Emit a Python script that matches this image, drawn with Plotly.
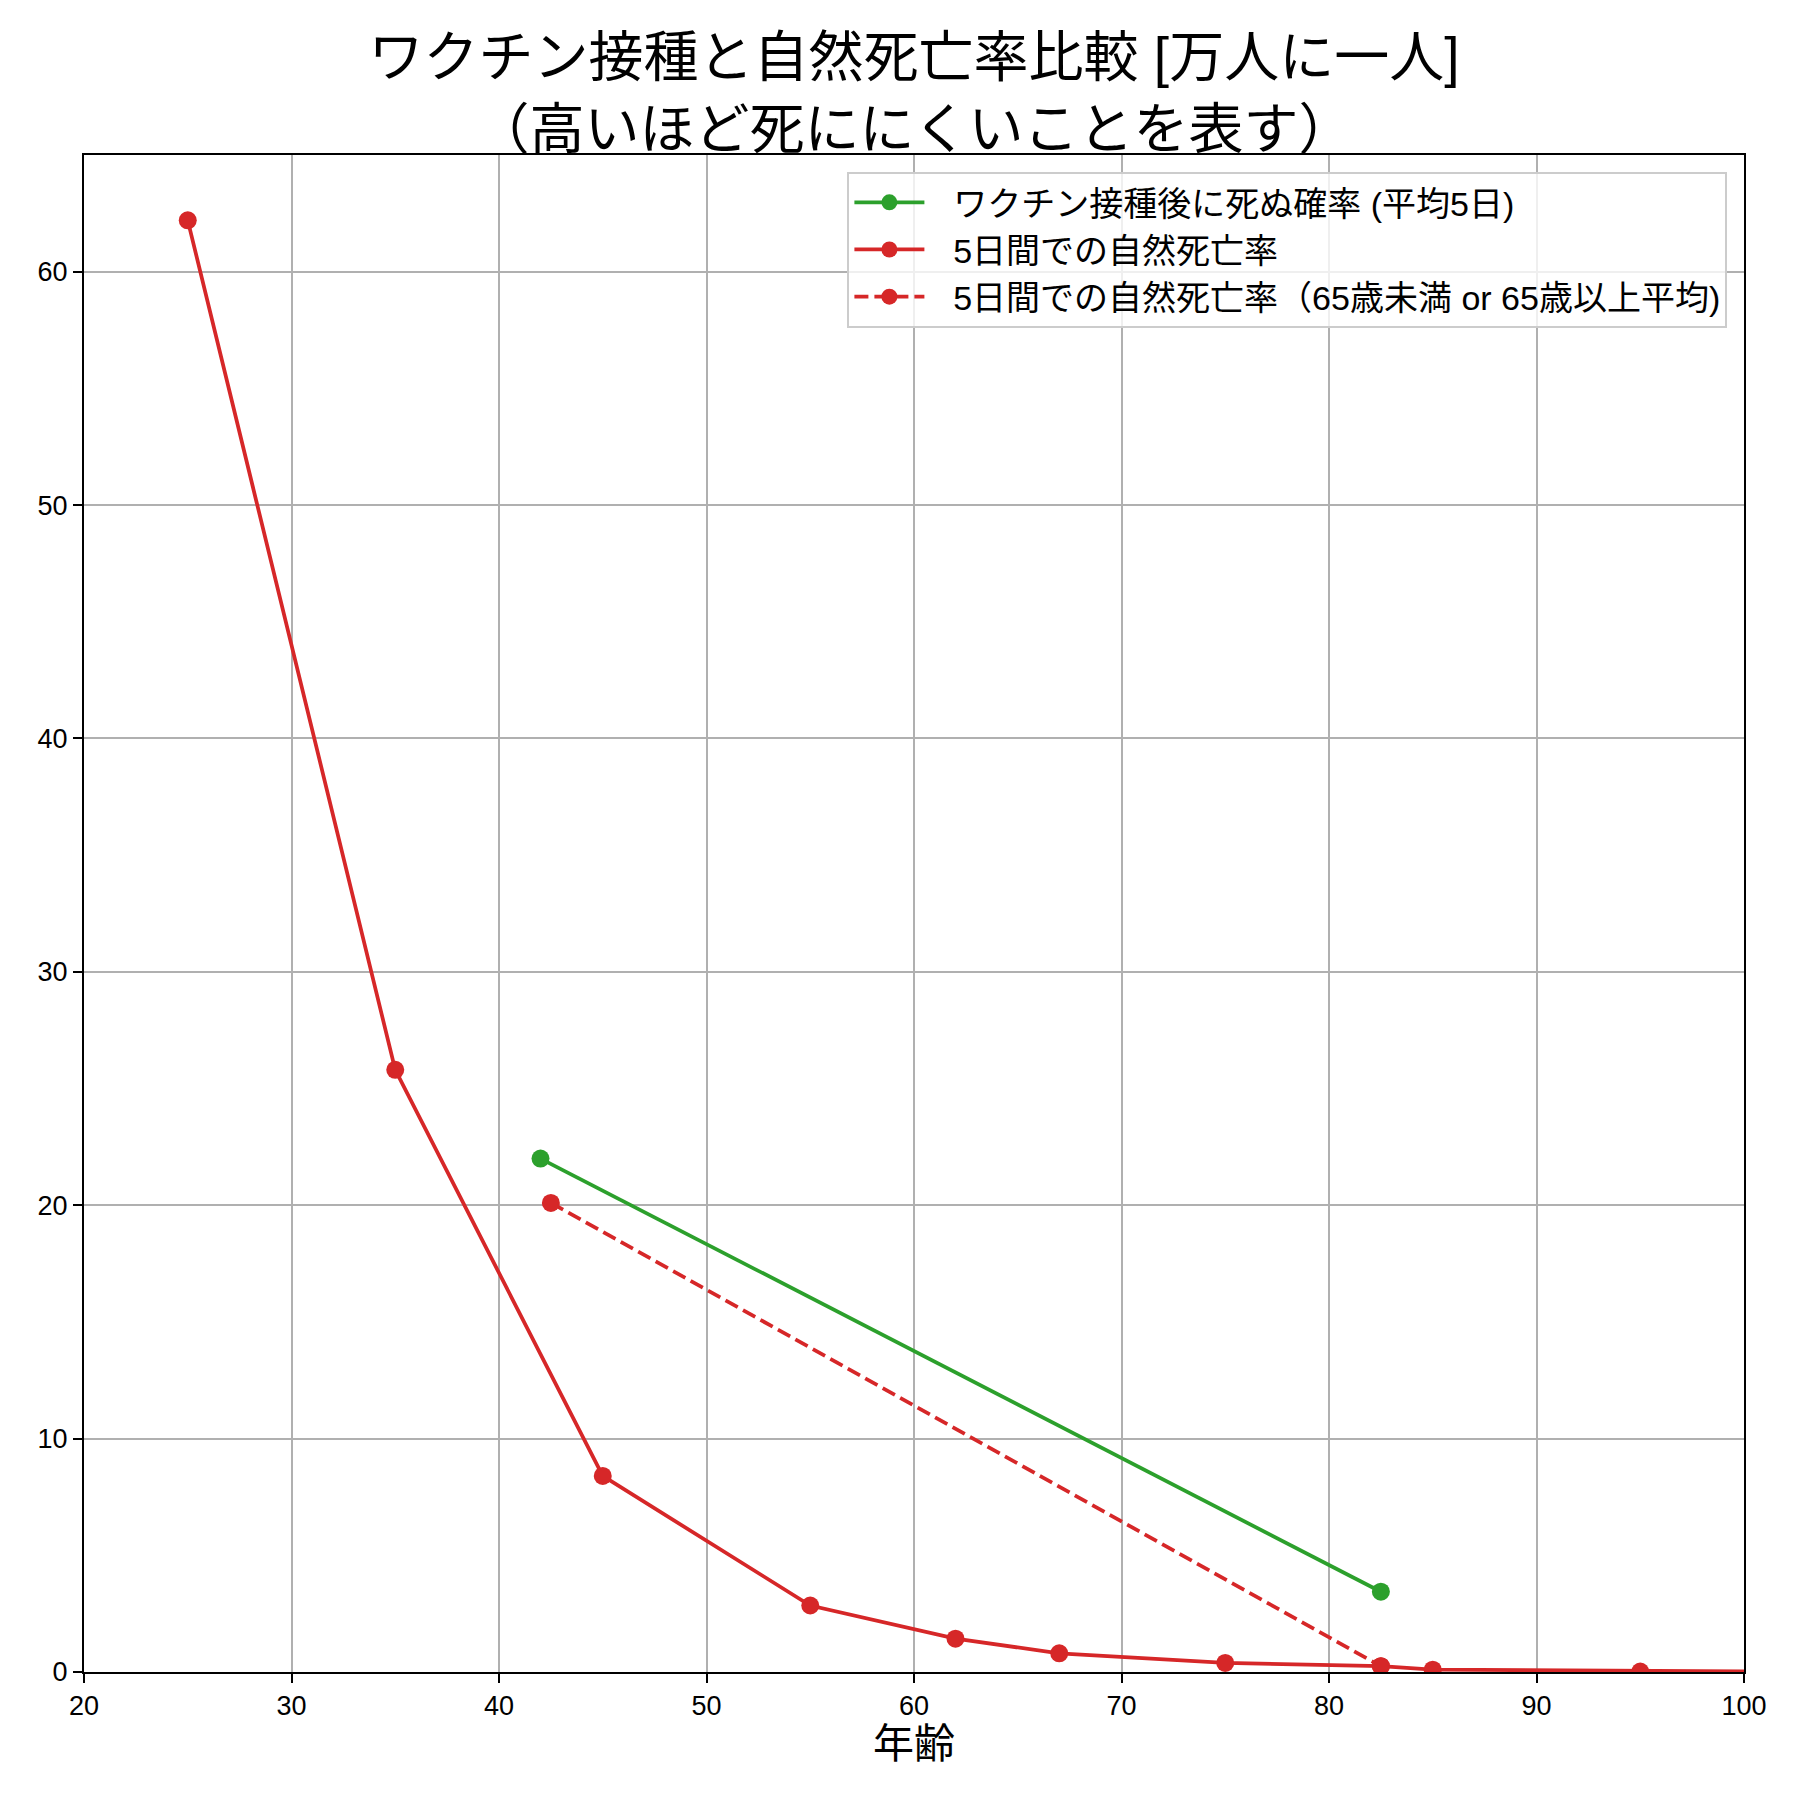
import plotly.graph_objects as go

age_natural = [25, 35, 45, 55, 62, 67, 75, 82.5, 85, 95, 105]
rate_natural = [62.2, 25.8, 8.4, 2.85, 1.43, 0.8, 0.39, 0.25, 0.1, 0.02, 0.0]

age_vaccine = [42, 82.5]
rate_vaccine = [22.0, 3.44]

age_natural_avg = [42.5, 82.5]
rate_natural_avg = [20.1, 0.25]

names = [
    "ワクチン接種後に死ぬ確率 (平均5日)",
    "5日間での自然死亡率",
    "5日間での自然死亡率（65歳未満 or 65歳以上平均)",
]
title_text = "ワクチン接種と自然死亡率比較 [万人に一人]<br>（高いほど死ににくいことを表す）"
x_label = "年齢"
x_ticks = [20, 30, 40, 50, 60, 70, 80, 90, 100]
y_ticks = [0, 10, 20, 30, 40, 50, 60]

GREEN = "#2ca02c"
RED = "#d62728"
FONT = "Liberation Sans, Noto Sans CJK JP"
GAP = "\u2002\u2009"  # visual gap between legend symbol and text

fig = go.Figure()
fig.add_trace(go.Scatter(x=age_vaccine, y=rate_vaccine, name=GAP + names[0], mode="lines+markers",
                         line=dict(color=GREEN, width=3.75), marker=dict(size=18, color=GREEN), cliponaxis=True))
fig.add_trace(go.Scatter(x=age_natural, y=rate_natural, name=GAP + names[1], mode="lines+markers",
                         line=dict(color=RED, width=3.75), marker=dict(size=18, color=RED), cliponaxis=True))
fig.add_trace(go.Scatter(x=age_natural_avg, y=rate_natural_avg, name=GAP + names[2], mode="lines+markers",
                         line=dict(color=RED, width=3.75, dash="14px,6px"), marker=dict(size=18, color=RED), cliponaxis=True))

fig.update_layout(
    width=1800, height=1800,
    margin=dict(l=84, r=56, t=155, b=128),
    paper_bgcolor="white", plot_bgcolor="white",
    font=dict(family=FONT, color="black", size=27),
    title=dict(text=title_text, x=0.5, xanchor="center", xref="paper",
               y=1 - 76 / 1800, yanchor="middle", yref="container",
               font=dict(size=55, family=FONT, color="black")),
    legend=dict(x=0.99, y=0.989, xanchor="right", yanchor="top",
                bgcolor="rgba(255,255,255,0.8)", bordercolor="#cccccc", borderwidth=2,
                font=dict(size=34, family=FONT), itemwidth=70, tracegroupgap=0),
    showlegend=True,
)
fig.update_xaxes(range=[20, 100], tickvals=x_ticks, showgrid=True, gridcolor="#b0b0b0", gridwidth=2,
                 showline=True, linecolor="black", linewidth=2, mirror=True,
                 ticks="outside", ticklen=9, tickwidth=2, tickcolor="black",
                 tickfont=dict(size=27), zeroline=False,
                 title=dict(text=x_label, font=dict(size=41), standoff=8))
fig.update_yaxes(range=[0, 65], tickvals=y_ticks, showgrid=True, gridcolor="#b0b0b0", gridwidth=2,
                 showline=True, linecolor="black", linewidth=2, mirror=True,
                 ticks="outside", ticklen=9, tickwidth=2, tickcolor="black",
                 tickfont=dict(size=27), zeroline=False)

fig.write_html("out.html")
